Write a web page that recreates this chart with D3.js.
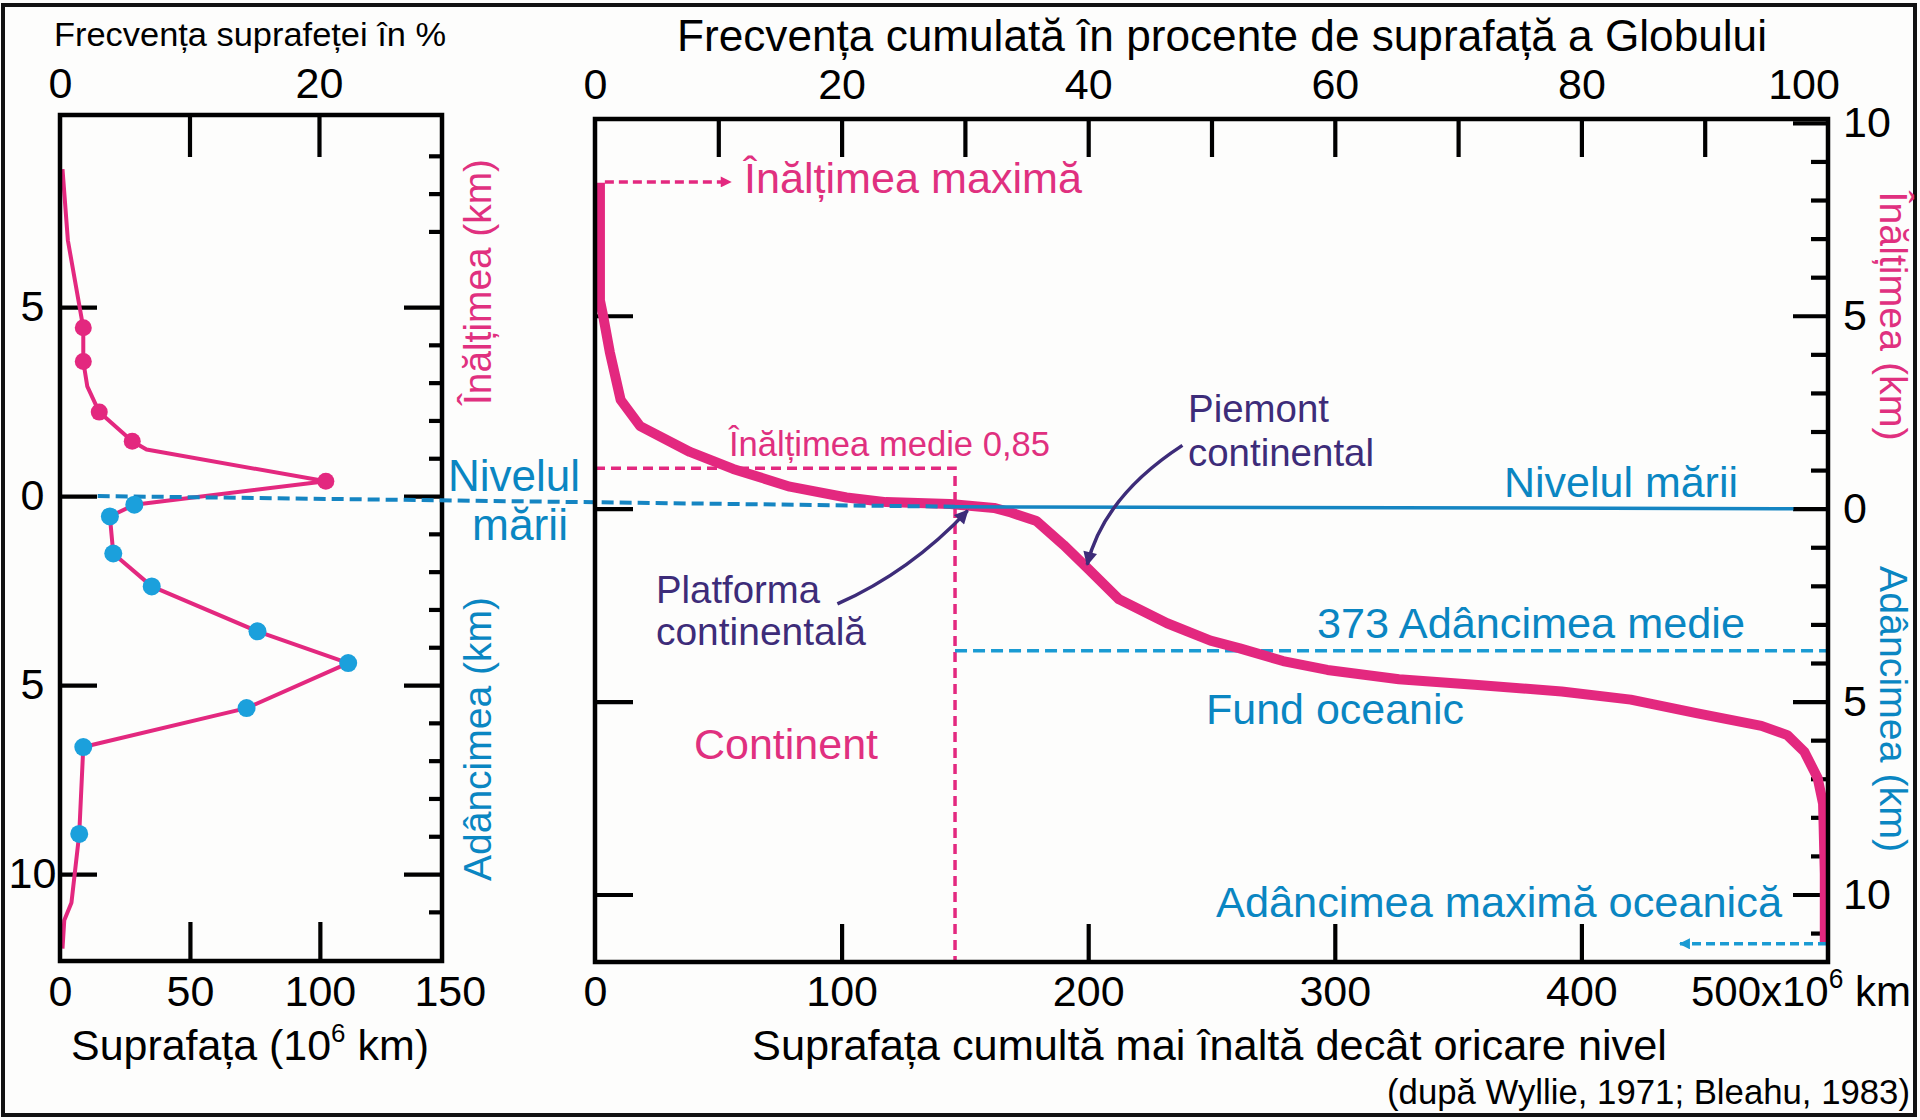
<!DOCTYPE html>
<html><head><meta charset="utf-8">
<script src="https://cdn.jsdelivr.net/npm/d3@7"></script>
<style>
body{margin:0;background:#fff}
svg{display:block}
text{font-family:"Liberation Sans",Arial,Helvetica,sans-serif}
</style>
</head><body>
<svg id="c" width="1920" height="1120"></svg>
<script>
// ---------------- DATA ----------------
// Left panel: frequency of surface per height class (area in 10^6 km², height in km; negative = depth)
const freqLineArea   = [0.96, 3.04, 8.96, 8.96, 10.5, 15.1, 27.8, 33.3, 102.3, 28.6, 19.2, 20.5, 35.3, 76.0, 110.9, 71.8, 8.96, 7.4, 4.4, 1.65, 0.96];
const freqLineHeight = [8.65, 6.76, 4.45, 3.56, 2.9, 2.22, 1.45, 1.23, 0.39, -0.23, -0.54, -1.52, -2.39, -3.58, -4.42, -5.61, -6.64, -8.94, -10.76, -11.22, -11.97];
const landDotArea    = [8.96, 8.96, 15.1, 27.8, 102.3];
const landDotHeight  = [4.45, 3.56, 2.22, 1.45, 0.39];
const oceanDotArea   = [28.6, 19.2, 20.5, 35.3, 76.0, 110.9, 71.8, 8.96, 7.4];
const oceanDotHeight = [-0.23, -0.54, -1.52, -2.39, -3.58, -4.42, -5.61, -6.64, -8.94];
const leftPctLabels  = [0, 20];
const leftPctTicks   = [10, 20];
const leftAreaLabels = [0, 50, 100, 150];
const leftAreaTicks  = [50, 100];
const majorHeights   = [5, 0, -5, -10];
const leftMinorHeights = [9, 8, 7, 4, 3, 2, 1, -1, -2, -3, -4, -6, -7, -8, -9, -11];

// Main panel: hypsometric curve (cumulative area in 10^6 km², height in km)
const hypsoArea   = [2, 2, 3.4, 6, 10.4, 18.3, 38.5, 56, 79, 102, 118, 144, 161.8, 168.7, 179, 190, 200, 212.5, 232, 249.6, 261.5, 279, 297, 326, 358, 392, 420, 446.6, 473, 483.5, 490.4, 495.8, 498, 498.7, 498.7];
const hypsoHeight = [8.45, 5.4, 4.96, 4.06, 2.82, 2.14, 1.47, 1.03, 0.57, 0.29, 0.17, 0.12, 0.02, -0.1, -0.32, -0.94, -1.56, -2.35, -2.97, -3.42, -3.62, -3.95, -4.18, -4.42, -4.57, -4.74, -4.95, -5.3, -5.63, -5.87, -6.3, -6.98, -7.65, -9.46, -11.26];
const cumPctLabels  = [0, 20, 40, 60, 80];
const cumPctTicks   = [10, 20, 30, 40, 50, 60, 70, 80, 90];
const cumAreaLabels = [0, 100, 200, 300, 400];
const cumAreaTicks  = [100, 200, 300, 400];
const rightMajor    = [10, 5, 0, -5, -10];
const rightMinor    = [9, 8, 7, 6, 4, 3, 2, 1, -1, -2, -3, -4, -6, -7, -8, -9, -11];
const meanLand   = {area: 146, height: 1.05};   // "Înălțimea medie 0,85"
const meanOcean  = {area: 146, height: -3.68};  // "373 Adâncimea medie"
const maxHeightArrow = {from: 4, to: 55, height: 8.47};
const maxDepthArrow  = {from: 499.6, to: 440, height: -11.28};
const seaLevelSolid  = {from: 146, to: 486};
const platformArrow  = {start: [98.3, -2.47], ctrl: [127.9, -1.63], end: [151.1, -0.05]};
const piemontArrow   = {start: [238.2, 1.64], ctrl: [206.4, 0.32], end: [199.6, -1.45]};

// ---------------- STYLE ----------------
const PINK = "#e3287f", PINKT = "#e0307f", BLUE = "#0a86c2", BLUEDOT = "#1ba0dc", BLUELINE = "#1585c2", BLUEDASH = "#1a9bd3", PURPLE = "#3d2c79", BLACK = "#000";
const DIGIT = 43;

const svg = d3.select("#c");
svg.append("rect").attr("x", 0).attr("y", 0).attr("width", 1920).attr("height", 1120).attr("fill", "#fdfdfc");
svg.append("rect").attr("x", 3).attr("y", 5).attr("width", 1912).attr("height", 1110)
  .attr("fill", "none").attr("stroke", "#111").attr("stroke-width", 4);

const defs = svg.append("defs");
function marker(id, color, w, h) {
  defs.append("marker").attr("id", id).attr("viewBox", "0 0 10 10").attr("refX", 9).attr("refY", 5)
    .attr("markerUnits", "userSpaceOnUse").attr("markerWidth", w).attr("markerHeight", h).attr("orient", "auto")
    .append("path").attr("d", "M0,0 L10,5 L0,10 z").attr("fill", color);
}
marker("apink", PINK, 14, 11);
marker("ablue", BLUEDASH, 14, 11);
marker("apurple", PURPLE, 18, 14);

function txt(x, y, s, o) {
  const t = svg.append("text").attr("x", x).attr("y", y)
    .attr("font-size", o.size).attr("fill", o.fill || BLACK).attr("text-anchor", o.anchor || "start");
  if (o.width) t.attr("textLength", o.width).attr("lengthAdjust", "spacingAndGlyphs");
  t.text(s);
  return t;
}
function rtxt(x, y, s, o) {
  const t = svg.append("text").attr("transform", `translate(${x},${y}) rotate(${o.rot})`)
    .attr("font-size", o.size).attr("fill", o.fill).attr("text-anchor", "middle").attr("dominant-baseline", "central");
  if (o.width) t.attr("textLength", o.width).attr("lengthAdjust", "spacingAndGlyphs");
  t.text(s);
}
function styleAxis(g, anchor) {
  g.select(".domain").remove();
  g.selectAll(".tick line").attr("stroke", BLACK).attr("stroke-width", 4.2);
  g.selectAll(".tick text").attr("font-size", DIGIT).attr("fill", BLACK)
    .attr("font-family", '"Liberation Sans",Arial,sans-serif');
  if (anchor) g.selectAll(".tick text").attr("text-anchor", anchor);
}

// ---------------- LEFT PANEL ----------------
const L = {x0: 60, x1: 442, y0: 115, y1: 961};
const xL = d3.scaleLinear().domain([0, 147]).range([L.x0, L.x1]);
const xLp = d3.scaleLinear().domain([0, 29.5]).range([L.x0, L.x1]);
const yL = d3.scaleLinear().domain([-12.3, 10.08]).range([L.y1, L.y0]);

svg.append("g").attr("transform", `translate(0,${L.y0})`)
  .call(d3.axisTop(xLp).tickValues(leftPctTicks).tickSize(-42).tickFormat("")).call(styleAxis);
svg.append("g").attr("transform", `translate(0,${L.y0})`)
  .call(d3.axisTop(xLp).tickValues(leftPctLabels).tickSize(0).tickPadding(17)).call(styleAxis);
svg.append("g").attr("transform", `translate(0,${L.y1})`)
  .call(d3.axisBottom(xL).tickValues(leftAreaTicks).tickSize(-39).tickFormat("")).call(styleAxis);
svg.append("g").attr("transform", `translate(0,${L.y1})`)
  .call(d3.axisBottom(xL).tickValues(leftAreaLabels).tickSize(0).tickPadding(14)).call(styleAxis);
svg.append("g").attr("transform", `translate(${L.x0},0)`)
  .call(d3.axisLeft(yL).tickValues(majorHeights).tickSize(-37).tickFormat("")).call(styleAxis);
svg.append("g").attr("transform", `translate(${L.x0},0)`)
  .call(d3.axisLeft(yL).tickValues(majorHeights).tickSize(0).tickPadding(27.5).tickFormat(d => Math.abs(d)))
  .call(g => styleAxis(g, "middle"));
svg.append("g").attr("transform", `translate(${L.x1},0)`)
  .call(d3.axisRight(yL).tickValues(majorHeights).tickSize(-38).tickFormat("")).call(styleAxis);
svg.append("g").attr("transform", `translate(${L.x1},0)`)
  .call(d3.axisRight(yL).tickValues(leftMinorHeights).tickSize(-13).tickFormat("")).call(styleAxis);

const freqPts = freqLineArea.map((a, i) => [xL(a), yL(freqLineHeight[i])]);
svg.append("path").attr("d", d3.line()(freqPts)).attr("fill", "none").attr("stroke", PINK)
  .attr("stroke-width", 4).attr("stroke-linejoin", "round");
svg.append("rect").attr("x", L.x0).attr("y", L.y0).attr("width", L.x1 - L.x0).attr("height", L.y1 - L.y0)
  .attr("fill", "none").attr("stroke", BLACK).attr("stroke-width", 4.5);

// ---------------- MAIN PANEL ----------------
const M = {x0: 595, x1: 1828, y0: 119, y1: 962};
const xM = d3.scaleLinear().domain([0, 500]).range([M.x0, M.x1]);
const xMp = d3.scaleLinear().domain([0, 100]).range([M.x0, M.x1]);
const yM = d3.scaleLinear().domain([-11.75, 10.1]).range([M.y1, M.y0]);

svg.append("g").attr("transform", `translate(0,${M.y0})`)
  .call(d3.axisTop(xMp).tickValues(cumPctTicks).tickSize(-38).tickFormat("")).call(styleAxis);
svg.append("g").attr("transform", `translate(0,${M.y0})`)
  .call(d3.axisTop(xMp).tickValues(cumPctLabels).tickSize(0).tickPadding(20)).call(styleAxis);
svg.append("g").attr("transform", `translate(0,${M.y1})`)
  .call(d3.axisBottom(xM).tickValues(cumAreaTicks).tickSize(-38).tickFormat("")).call(styleAxis);
svg.append("g").attr("transform", `translate(0,${M.y1})`)
  .call(d3.axisBottom(xM).tickValues(cumAreaLabels).tickSize(0).tickPadding(13)).call(styleAxis);
svg.append("g").attr("transform", `translate(${M.x0},0)`)
  .call(d3.axisLeft(yM).tickValues(majorHeights).tickSize(-38).tickFormat("")).call(styleAxis);
svg.append("g").attr("transform", `translate(${M.x1},0)`)
  .call(d3.axisRight(yM).tickValues(rightMajor).tickSize(-35).tickFormat("")).call(styleAxis);
svg.append("g").attr("transform", `translate(${M.x1},0)`)
  .call(d3.axisRight(yM).tickValues(rightMinor).tickSize(-17).tickFormat("")).call(styleAxis);
svg.append("g").attr("transform", `translate(${M.x1},0)`)
  .call(d3.axisRight(yM).tickValues(rightMajor).tickSize(0).tickPadding(15).tickFormat(d => Math.abs(d))).call(styleAxis);

// "100" top label and "500x10^6 km" bottom label
txt(xMp(100) - 24, M.y0 - 20, "100", {size: DIGIT, anchor: "middle"});
const t500 = svg.append("text").attr("x", 1911).attr("y", 1006).attr("font-size", DIGIT).attr("text-anchor", "end")
  .attr("textLength", 220).attr("lengthAdjust", "spacingAndGlyphs");
t500.append("tspan").text("500x10");
t500.append("tspan").attr("dy", -18).attr("font-size", 27).text("6");
t500.append("tspan").attr("dy", 18).text(" km");

// mean land height dashed (pink)
svg.append("path")
  .attr("d", d3.line()([[xM(0), yM(meanLand.height)], [xM(meanLand.area), yM(meanLand.height)], [xM(meanLand.area), yM(-11.75)]]))
  .attr("fill", "none").attr("stroke", PINK).attr("stroke-width", 3.5).attr("stroke-dasharray", "10,6");
// mean ocean depth dashed (blue)
svg.append("line").attr("x1", xM(meanOcean.area)).attr("x2", xM(500))
  .attr("y1", yM(meanOcean.height)).attr("y2", yM(meanOcean.height))
  .attr("stroke", BLUEDASH).attr("stroke-width", 3.5).attr("stroke-dasharray", "12,6");

// hypsometric curve
const hyPts = hypsoArea.map((a, i) => [xM(a), yM(hypsoHeight[i])]);
svg.append("path").attr("d", d3.line()(hyPts)).attr("fill", "none").attr("stroke", PINK)
  .attr("stroke-width", 10).attr("stroke-linejoin", "round");

// sea level: dashed from left panel to main, then solid
svg.append("line").attr("x1", xL(14.5)).attr("y1", yL(0)).attr("x2", xM(seaLevelSolid.from)).attr("y2", yM(0.05))
  .attr("stroke", BLUELINE).attr("stroke-width", 4).attr("stroke-dasharray", "12,6");
svg.append("line").attr("x1", xM(seaLevelSolid.from)).attr("y1", yM(0.05)).attr("x2", xM(seaLevelSolid.to)).attr("y2", yM(0))
  .attr("stroke", BLUELINE).attr("stroke-width", 3.5);

// dots on left panel
svg.append("g").selectAll("circle").data(landDotArea).join("circle")
  .attr("cx", (d) => xL(d)).attr("cy", (d, i) => yL(landDotHeight[i])).attr("r", 8.5).attr("fill", PINK);
svg.append("g").selectAll("circle").data(oceanDotArea).join("circle")
  .attr("cx", (d) => xL(d)).attr("cy", (d, i) => yL(oceanDotHeight[i])).attr("r", 9).attr("fill", BLUEDOT);

// max height / max depth arrows
svg.append("line").attr("x1", xM(maxHeightArrow.from)).attr("x2", xM(maxHeightArrow.to))
  .attr("y1", yM(maxHeightArrow.height)).attr("y2", yM(maxHeightArrow.height))
  .attr("stroke", PINK).attr("stroke-width", 3.5).attr("stroke-dasharray", "9,5").attr("marker-end", "url(#apink)");
svg.append("line").attr("x1", xM(maxDepthArrow.from)).attr("x2", xM(maxDepthArrow.to))
  .attr("y1", yM(maxDepthArrow.height)).attr("y2", yM(maxDepthArrow.height))
  .attr("stroke", BLUEDASH).attr("stroke-width", 3.5).attr("stroke-dasharray", "9,5").attr("marker-end", "url(#ablue)");

// purple annotation arrows
function qarrow(a) {
  const p = d3.path();
  p.moveTo(xM(a.start[0]), yM(a.start[1]));
  p.quadraticCurveTo(xM(a.ctrl[0]), yM(a.ctrl[1]), xM(a.end[0]), yM(a.end[1]));
  svg.append("path").attr("d", p.toString()).attr("fill", "none").attr("stroke", PURPLE)
    .attr("stroke-width", 3.5).attr("marker-end", "url(#apurple)");
}
qarrow(platformArrow);
qarrow(piemontArrow);

svg.append("rect").attr("x", M.x0).attr("y", M.y0).attr("width", M.x1 - M.x0).attr("height", M.y1 - M.y0)
  .attr("fill", "none").attr("stroke", BLACK).attr("stroke-width", 4.5);

// ---------------- TEXTS ----------------
txt(54, 46, "Frecvența suprafeței în %", {size: 34, width: 392});
txt(677, 51, "Frecvența cumulată în procente de suprafață a Globului", {size: 44, width: 1090});
txt(744, 193, "Înălțimea maximă", {size: 43, fill: PINKT, width: 338});
txt(729, 456, "Înălțimea medie 0,85", {size: 35, fill: PINKT, width: 321});
txt(1188, 422, "Piemont", {size: 38.5, fill: PURPLE, width: 141});
txt(1188, 466, "continental", {size: 38.5, fill: PURPLE, width: 186});
txt(656, 603, "Platforma", {size: 38.5, fill: PURPLE, width: 164});
txt(656, 645, "continentală", {size: 38.5, fill: PURPLE, width: 210});
txt(1504, 497, "Nivelul mării", {size: 43, fill: BLUE, width: 234});
txt(1317, 638, "373 Adâncimea medie", {size: 43, fill: BLUE, width: 428});
txt(1206, 724, "Fund oceanic", {size: 43, fill: BLUE, width: 258});
txt(1216, 917, "Adâncimea maximă oceanică", {size: 43, fill: BLUE, width: 566});
txt(694, 759, "Continent", {size: 43, fill: PINKT, width: 184});
txt(448, 491, "Nivelul", {size: 44, fill: BLUE, width: 132});
txt(472, 540, "mării", {size: 44, fill: BLUE, width: 96});
rtxt(477, 282, "Înălțimea (km)", {size: 39, fill: PINKT, rot: -90, width: 246});
rtxt(477, 739, "Adâncimea (km)", {size: 39, fill: BLUE, rot: -90, width: 284});
rtxt(1893, 316, "Înălțimea (km)", {size: 39, fill: PINKT, rot: 90, width: 249});
rtxt(1893, 709, "Adâncimea (km)", {size: 39, fill: BLUE, rot: 90, width: 286});
txt(752, 1060, "Suprafața cumultă mai înaltă decât oricare nivel", {size: 43, width: 915});
const tl = svg.append("text").attr("x", 71).attr("y", 1060).attr("font-size", 43)
  .attr("textLength", 358).attr("lengthAdjust", "spacingAndGlyphs");
tl.append("tspan").text("Suprafața (10");
tl.append("tspan").attr("dy", -18).attr("font-size", 26).text("6");
tl.append("tspan").attr("dy", 18).text(" km)");
txt(1387, 1104, "(după Wyllie, 1971; Bleahu, 1983)", {size: 34.5, width: 523});
</script>
</body></html>
